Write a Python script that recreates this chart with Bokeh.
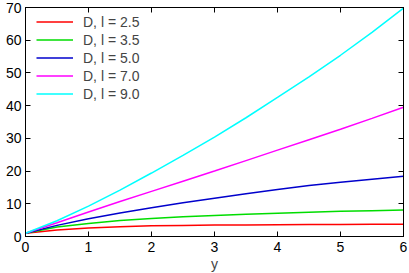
from bokeh.plotting import figure
from bokeh.models import LinearAxis, Range1d, FixedTicker, Legend, LegendItem
from bokeh.embed import file_html
from bokeh.resources import INLINE

xs = [0, 0.5, 1, 1.5, 2, 2.5, 3, 3.5, 4, 4.5, 5, 5.5, 6]
labels = ["D, l = 2.5", "D, l = 3.5", "D, l = 5.0", "D, l = 7.0", "D, l = 9.0"]
colors = ["#ff0000", "#00dd00", "#0000cc", "#ff00ff", "#00ffff"]
red = [1.0, 2.0, 2.6, 3.0, 3.25, 3.4, 3.5, 3.55, 3.6, 3.65, 3.7, 3.72, 3.75]
green = [1.0, 2.9, 4.0, 4.9, 5.5, 6.0, 6.4, 6.8, 7.1, 7.4, 7.7, 7.9, 8.1]
blue = [1.0, 3.4, 5.4, 7.2, 8.8, 10.3, 11.7, 13.1, 14.4, 15.6, 16.6, 17.5, 18.4]
magenta = [1.0, 4.2, 7.5, 10.7, 13.8, 16.9, 20.0, 23.2, 26.4, 29.6, 32.8, 36.1, 39.5]
cyan = [1.0, 4.8, 9.3, 14.2, 19.4, 24.8, 30.4, 36.3, 42.5, 48.8, 55.4, 62.4, 69.8]
series = [red, green, blue, magenta, cyan]

x_ticks = [0, 1, 2, 3, 4, 5, 6]
y_ticks = [0, 10, 20, 30, 40, 50, 60, 70]

FONT = "Liberation Sans"
FS = "14px"

p = figure(frame_width=378, frame_height=229, output_backend="svg", toolbar_location=None,
           x_range=Range1d(0, 6), y_range=Range1d(0, 70),
           min_border_left=25, min_border_right=6, min_border_top=7, min_border_bottom=0)
p.xgrid.visible = False
p.ygrid.visible = False
p.outline_line_color = "black"
p.outline_line_width = 1
p.background_fill_color = "white"

items = []
for ys, c, lab in zip(series, colors, labels):
    r = p.line(xs, ys, line_color=c, line_width=1.5)
    items.append(LegendItem(label=lab, renderers=[r]))

xa = p.xaxis[0]
xa.ticker = FixedTicker(ticks=x_ticks)
ya = p.yaxis[0]
ya.ticker = FixedTicker(ticks=y_ticks)
for ax in (xa, ya):
    ax.major_tick_in = 5
    ax.major_tick_out = 0
    ax.minor_tick_line_color = None
    ax.axis_line_color = "black"
    ax.major_tick_line_color = "black"
    ax.major_label_text_font = FONT
    ax.major_label_text_font_size = FS
    ax.major_label_text_color = "black"
xa.major_label_standoff = 5
ya.major_label_standoff = 4
xa.axis_label = "y"
xa.axis_label_text_font = FONT
xa.axis_label_text_font_style = "normal"
xa.axis_label_text_font_size = FS
xa.axis_label_standoff = 1

top = LinearAxis(ticker=FixedTicker(ticks=x_ticks),
                 major_label_overrides={t: "" for t in x_ticks},
                 major_tick_in=5, major_tick_out=0, minor_tick_line_color=None,
                 major_label_standoff=0)
right = LinearAxis(ticker=FixedTicker(ticks=y_ticks),
                   major_label_overrides={t: "" for t in y_ticks},
                   major_tick_in=5, major_tick_out=0, minor_tick_line_color=None,
                   major_label_standoff=0)
p.add_layout(top, "above")
p.add_layout(right, "right")

legend = Legend(items=items, location=(11, 134), border_line_color=None,
                background_fill_alpha=0, label_text_font=FONT, label_text_font_size=FS,
                glyph_width=37, label_standoff=10, spacing=1, padding=4, margin=0,
                label_height=17, glyph_height=17)
p.add_layout(legend, "center")

open("out.html", "w").write(file_html(p, INLINE))
